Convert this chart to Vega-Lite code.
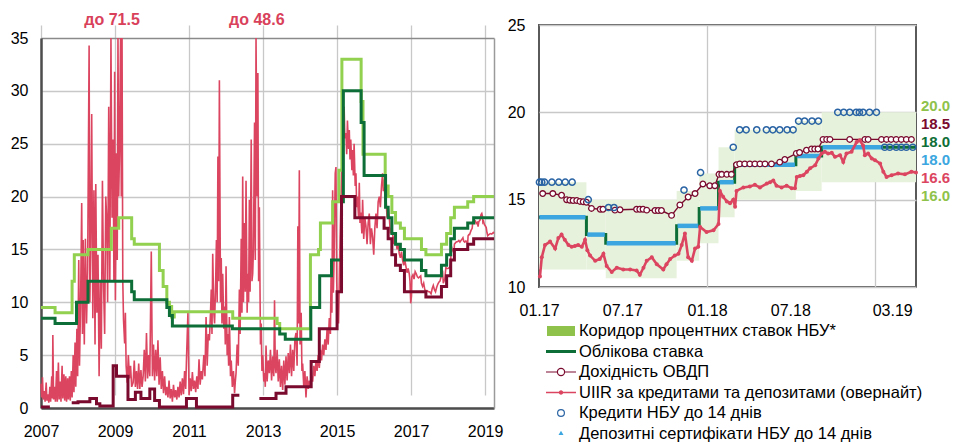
{
  "$schema": "https://vega.github.io/schema/vega-lite/v6.json",
  "padding": {"left": 10, "top": 12, "right": 0, "bottom": 0},
  "background": "white",
  "config": {
    "font": "Liberation Sans",
    "view": {"stroke": null},
    "axis": {"labelFont": "Liberation Sans", "labelFontSize": 16, "labelColor": "#000000", "ticks": false, "title": null, "labelOverlap": false}
  },
  "spacing": 45,
  "bounds": "flush",
  "resolve": {"scale": {"color": "independent"}, "legend": {"color": "independent"}},
  "datasets": {
    "lpink": [
      {"t":2007.00,"v":2.3},{"t":2007.02,"v":1.0},{"t":2007.04,"v":2.9},{"t":2007.06,"v":0.8},{"t":2007.09,"v":1.6},{"t":2007.11,"v":0.6},{"t":2007.14,"v":2.4},{"t":2007.16,"v":0.7},{"t":2007.19,"v":1.3},{"t":2007.21,"v":0.5},{"t":2007.24,"v":2.0},{"t":2007.26,"v":0.6},{"t":2007.29,"v":3.0},{"t":2007.31,"v":0.9},{"t":2007.32,"v":6.9},{"t":2007.34,"v":0.8},{"t":2007.37,"v":2.0},{"t":2007.39,"v":0.6},{"t":2007.42,"v":3.5},{"t":2007.44,"v":0.6},{"t":2007.47,"v":4.3},{"t":2007.49,"v":0.8},{"t":2007.52,"v":2.5},{"t":2007.54,"v":0.6},{"t":2007.57,"v":4.0},{"t":2007.59,"v":0.9},{"t":2007.62,"v":3.2},{"t":2007.64,"v":0.7},{"t":2007.67,"v":3.0},{"t":2007.69,"v":0.6},{"t":2007.72,"v":2.8},{"t":2007.74,"v":0.8},{"t":2007.77,"v":3.0},{"t":2007.79,"v":0.7},{"t":2007.82,"v":3.5},{"t":2007.84,"v":1.0},{"t":2007.87,"v":5.0},{"t":2007.89,"v":1.5},{"t":2007.92,"v":6.2},{"t":2007.94,"v":2.0},{"t":2007.97,"v":7.5},{"t":2007.99,"v":3.0},
      {"t":2008.02,"v":14.0},{"t":2008.04,"v":4.0},{"t":2008.07,"v":10.0},{"t":2008.10,"v":19.4},{"t":2008.12,"v":7.0},{"t":2008.14,"v":15.9},{"t":2008.17,"v":6.0},{"t":2008.20,"v":16.0},{"t":2008.23,"v":8.0},{"t":2008.26,"v":13.0},{"t":2008.30,"v":34.3},{"t":2008.32,"v":10.0},{"t":2008.34,"v":15.0},{"t":2008.37,"v":27.8},{"t":2008.40,"v":8.5},{"t":2008.43,"v":20.6},{"t":2008.46,"v":6.0},{"t":2008.48,"v":21.2},{"t":2008.51,"v":9.0},{"t":2008.54,"v":14.5},{"t":2008.57,"v":3.0},{"t":2008.60,"v":12.0},{"t":2008.63,"v":5.6},{"t":2008.66,"v":21.5},{"t":2008.69,"v":11.7},{"t":2008.72,"v":7.0},{"t":2008.75,"v":20.0},{"t":2008.78,"v":17.5},{"t":2008.80,"v":10.0},{"t":2008.83,"v":28.5},{"t":2008.86,"v":12.0},{"t":2008.89,"v":71.5},{"t":2008.92,"v":18.0},{"t":2008.95,"v":25.4},{"t":2008.97,"v":12.0},{"t":2008.99,"v":31.8},
      {"t":2009.01,"v":10.2},{"t":2009.04,"v":24.1},{"t":2009.06,"v":14.0},{"t":2009.08,"v":45.0},{"t":2009.10,"v":20.0},{"t":2009.12,"v":24.0},{"t":2009.15,"v":45.0},{"t":2009.17,"v":20.0},{"t":2009.19,"v":45.0},{"t":2009.21,"v":12.0},{"t":2009.23,"v":8.3},{"t":2009.26,"v":6.1},{"t":2009.28,"v":9.0},{"t":2009.30,"v":4.0},{"t":2009.33,"v":2.4},{"t":2009.36,"v":5.0},{"t":2009.39,"v":2.8},{"t":2009.42,"v":4.0},{"t":2009.45,"v":2.0},{"t":2009.49,"v":2.4},{"t":2009.52,"v":4.5},{"t":2009.55,"v":2.0},{"t":2009.58,"v":3.5},{"t":2009.61,"v":1.8},{"t":2009.64,"v":4.2},{"t":2009.67,"v":1.8},{"t":2009.70,"v":3.6},{"t":2009.73,"v":2.0},{"t":2009.76,"v":3.0},{"t":2009.79,"v":5.5},{"t":2009.82,"v":2.5},{"t":2009.85,"v":7.1},{"t":2009.88,"v":2.8},{"t":2009.91,"v":5.0},{"t":2009.94,"v":3.0},{"t":2009.98,"v":14.8},
      {"t":2010.01,"v":3.0},{"t":2010.04,"v":6.0},{"t":2010.07,"v":2.6},{"t":2010.10,"v":5.5},{"t":2010.13,"v":3.0},{"t":2010.16,"v":6.4},{"t":2010.19,"v":2.2},{"t":2010.22,"v":4.8},{"t":2010.25,"v":1.8},{"t":2010.28,"v":3.5},{"t":2010.31,"v":1.4},{"t":2010.34,"v":3.0},{"t":2010.37,"v":1.2},{"t":2010.40,"v":2.0},{"t":2010.43,"v":1.0},{"t":2010.46,"v":2.6},{"t":2010.49,"v":0.9},{"t":2010.52,"v":1.8},{"t":2010.55,"v":0.6},{"t":2010.58,"v":2.2},{"t":2010.61,"v":1.0},{"t":2010.64,"v":1.7},{"t":2010.67,"v":0.8},{"t":2010.70,"v":2.0},{"t":2010.73,"v":1.0},{"t":2010.76,"v":2.5},{"t":2010.79,"v":1.2},{"t":2010.82,"v":2.8},{"t":2010.85,"v":1.3},{"t":2010.88,"v":3.5},{"t":2010.91,"v":1.8},{"t":2010.93,"v":4.5},{"t":2010.97,"v":9.0},
      {"t":2011.00,"v":1.2},{"t":2011.03,"v":2.8},{"t":2011.06,"v":1.6},{"t":2011.09,"v":3.4},{"t":2011.12,"v":1.8},{"t":2011.15,"v":2.6},{"t":2011.18,"v":1.5},{"t":2011.21,"v":3.0},{"t":2011.24,"v":1.8},{"t":2011.27,"v":4.6},{"t":2011.30,"v":2.2},{"t":2011.33,"v":3.5},{"t":2011.36,"v":2.7},{"t":2011.40,"v":5.0},{"t":2011.43,"v":3.0},{"t":2011.46,"v":8.6},{"t":2011.49,"v":4.0},{"t":2011.52,"v":7.0},{"t":2011.55,"v":6.4},{"t":2011.58,"v":9.0},{"t":2011.60,"v":11.2},{"t":2011.62,"v":7.0},{"t":2011.64,"v":14.6},{"t":2011.67,"v":9.0},{"t":2011.69,"v":8.0},{"t":2011.72,"v":12.0},{"t":2011.74,"v":15.9},{"t":2011.76,"v":10.0},{"t":2011.78,"v":23.8},{"t":2011.80,"v":12.0},{"t":2011.82,"v":31.0},{"t":2011.85,"v":10.0},{"t":2011.87,"v":14.2},{"t":2011.89,"v":8.0},{"t":2011.91,"v":12.7},{"t":2011.94,"v":7.5},{"t":2011.96,"v":9.6},{"t":2011.98,"v":6.0},
      {"t":2012.00,"v":13.4},{"t":2012.03,"v":5.0},{"t":2012.05,"v":7.0},{"t":2012.07,"v":4.0},{"t":2012.09,"v":8.6},{"t":2012.12,"v":3.0},{"t":2012.14,"v":4.5},{"t":2012.17,"v":2.0},{"t":2012.20,"v":3.5},{"t":2012.23,"v":1.4},{"t":2012.25,"v":2.5},{"t":2012.27,"v":3.3},{"t":2012.30,"v":6.0},{"t":2012.33,"v":4.0},{"t":2012.36,"v":11.2},{"t":2012.38,"v":7.0},{"t":2012.41,"v":16.0},{"t":2012.43,"v":9.0},{"t":2012.45,"v":21.9},{"t":2012.47,"v":10.0},{"t":2012.50,"v":17.5},{"t":2012.52,"v":11.0},{"t":2012.54,"v":21.5},{"t":2012.57,"v":9.0},{"t":2012.59,"v":12.7},{"t":2012.61,"v":10.0},{"t":2012.63,"v":19.7},{"t":2012.65,"v":11.0},{"t":2012.68,"v":25.4},{"t":2012.70,"v":12.0},{"t":2012.72,"v":12.7},{"t":2012.74,"v":15.0},{"t":2012.77,"v":27.0},{"t":2012.79,"v":14.0},{"t":2012.81,"v":48.6},{"t":2012.84,"v":20.0},{"t":2012.86,"v":31.7},{"t":2012.88,"v":12.0},{"t":2012.90,"v":19.0},{"t":2012.93,"v":6.0},{"t":2012.95,"v":8.0},{"t":2012.97,"v":3.5},{"t":2012.99,"v":5.0},
      {"t":2013.02,"v":2.5},{"t":2013.04,"v":3.3},{"t":2013.06,"v":2.0},{"t":2013.08,"v":5.9},{"t":2013.11,"v":2.5},{"t":2013.14,"v":4.5},{"t":2013.17,"v":3.3},{"t":2013.20,"v":5.5},{"t":2013.23,"v":2.6},{"t":2013.26,"v":4.9},{"t":2013.29,"v":3.0},{"t":2013.31,"v":10.2},{"t":2013.33,"v":4.0},{"t":2013.35,"v":3.3},{"t":2013.38,"v":5.5},{"t":2013.41,"v":2.5},{"t":2013.44,"v":4.6},{"t":2013.47,"v":2.0},{"t":2013.50,"v":4.0},{"t":2013.53,"v":1.7},{"t":2013.56,"v":4.5},{"t":2013.59,"v":2.2},{"t":2013.62,"v":4.9},{"t":2013.65,"v":2.6},{"t":2013.68,"v":5.2},{"t":2013.71,"v":3.3},{"t":2013.74,"v":6.0},{"t":2013.77,"v":3.0},{"t":2013.80,"v":5.5},{"t":2013.83,"v":3.5},{"t":2013.86,"v":6.5},{"t":2013.89,"v":7.1},{"t":2013.92,"v":4.0},{"t":2013.94,"v":17.2},{"t":2013.96,"v":8.0},{"t":2013.98,"v":22.5},
      {"t":2014.00,"v":6.0},{"t":2014.03,"v":9.0},{"t":2014.05,"v":3.5},{"t":2014.07,"v":4.2},{"t":2014.10,"v":2.0},{"t":2014.13,"v":3.5},{"t":2014.16,"v":1.0},{"t":2014.19,"v":3.0},{"t":2014.22,"v":1.8},{"t":2014.25,"v":2.6},{"t":2014.28,"v":2.0},{"t":2014.31,"v":3.0},{"t":2014.34,"v":2.5},{"t":2014.37,"v":4.0},{"t":2014.40,"v":3.0},{"t":2014.43,"v":4.5},{"t":2014.46,"v":3.5},{"t":2014.49,"v":5.0},{"t":2014.52,"v":3.8},{"t":2014.55,"v":5.5},{"t":2014.58,"v":4.5},{"t":2014.61,"v":6.0},{"t":2014.64,"v":5.0},{"t":2014.67,"v":6.5},{"t":2014.70,"v":5.5},{"t":2014.73,"v":7.5},{"t":2014.76,"v":6.0},{"t":2014.79,"v":8.5},{"t":2014.82,"v":7.0},{"t":2014.84,"v":13.4},{"t":2014.86,"v":9.0},{"t":2014.88,"v":20.6},{"t":2014.90,"v":10.9},{"t":2014.92,"v":14.2},{"t":2014.95,"v":22.2},{"t":2014.97,"v":22.8},{"t":2014.99,"v":12.0},
      {"t":2015.01,"v":9.0},{"t":2015.04,"v":8.0},{"t":2015.06,"v":12.0},{"t":2015.08,"v":16.0},{"t":2015.10,"v":19.0},{"t":2015.13,"v":23.0},{"t":2015.15,"v":25.4},{"t":2015.17,"v":27.0},{"t":2015.19,"v":28.5},{"t":2015.21,"v":25.5},{"t":2015.24,"v":26.0},{"t":2015.26,"v":24.0},{"t":2015.28,"v":27.2},{"t":2015.31,"v":24.5},{"t":2015.33,"v":26.3},{"t":2015.35,"v":23.5},{"t":2015.37,"v":25.4},{"t":2015.40,"v":22.5},{"t":2015.42,"v":24.4},{"t":2015.44,"v":22.0},{"t":2015.46,"v":25.0},{"t":2015.49,"v":21.0},{"t":2015.51,"v":22.2},{"t":2015.53,"v":19.0},{"t":2015.55,"v":20.0},{"t":2015.58,"v":18.0},{"t":2015.60,"v":21.3},{"t":2015.62,"v":17.5},{"t":2015.64,"v":18.5},{"t":2015.67,"v":16.5},{"t":2015.69,"v":19.7},{"t":2015.72,"v":16.0},{"t":2015.75,"v":18.0},{"t":2015.78,"v":17.2},{"t":2015.81,"v":15.5},{"t":2015.84,"v":17.5},{"t":2015.87,"v":18.4},{"t":2015.90,"v":15.5},{"t":2015.93,"v":17.0},{"t":2015.96,"v":16.2},{"t":2015.99,"v":14.5},
      {"t":2016.02,"v":17.0},{"t":2016.05,"v":18.4},{"t":2016.08,"v":17.0},{"t":2016.11,"v":19.5},{"t":2016.14,"v":20.0},{"t":2016.17,"v":19.0},{"t":2016.20,"v":21.0},{"t":2016.23,"v":22.2},{"t":2016.25,"v":20.5},{"t":2016.27,"v":21.6},{"t":2016.30,"v":19.5},{"t":2016.32,"v":20.0},{"t":2016.35,"v":18.0},{"t":2016.38,"v":19.0},{"t":2016.41,"v":18.1},{"t":2016.44,"v":16.5},{"t":2016.47,"v":17.0},{"t":2016.50,"v":16.5},{"t":2016.53,"v":15.5},{"t":2016.56,"v":16.3},{"t":2016.59,"v":15.9},{"t":2016.62,"v":15.0},{"t":2016.65,"v":15.5},{"t":2016.68,"v":14.6},{"t":2016.71,"v":14.2},{"t":2016.74,"v":14.8},{"t":2016.77,"v":14.0},{"t":2016.80,"v":13.5},{"t":2016.83,"v":14.0},{"t":2016.86,"v":13.4},{"t":2016.89,"v":12.8},{"t":2016.92,"v":13.2},{"t":2016.95,"v":12.7},{"t":2016.97,"v":12.0},{"t":2016.99,"v":9.9},
      {"t":2017.01,"v":10.6},{"t":2017.02,"v":12.4},{"t":2017.05,"v":12.6},{"t":2017.08,"v":12.2},{"t":2017.11,"v":12.9},{"t":2017.14,"v":12.7},{"t":2017.17,"v":12.4},{"t":2017.20,"v":12.3},{"t":2017.23,"v":12.4},{"t":2017.26,"v":12.5},{"t":2017.28,"v":11.8},{"t":2017.31,"v":11.5},{"t":2017.34,"v":11.8},{"t":2017.37,"v":11.2},{"t":2017.40,"v":10.9},{"t":2017.43,"v":11.1},{"t":2017.47,"v":11.0},{"t":2017.50,"v":11.0},{"t":2017.54,"v":10.8},{"t":2017.57,"v":11.3},{"t":2017.60,"v":11.6},{"t":2017.63,"v":11.2},{"t":2017.66,"v":11.0},{"t":2017.69,"v":11.4},{"t":2017.72,"v":11.7},{"t":2017.75,"v":11.9},{"t":2017.78,"v":12.0},{"t":2017.81,"v":12.4},{"t":2017.85,"v":13.0},{"t":2017.87,"v":11.8},{"t":2017.91,"v":12.2},{"t":2017.94,"v":13.3},{"t":2017.97,"v":13.2},
      {"t":2018.00,"v":13.2},{"t":2018.04,"v":13.3},{"t":2018.07,"v":13.6},{"t":2018.08,"v":15.4},{"t":2018.11,"v":15.0},{"t":2018.14,"v":14.8},{"t":2018.16,"v":14.6},{"t":2018.17,"v":15.5},{"t":2018.22,"v":15.7},{"t":2018.26,"v":15.75},{"t":2018.29,"v":15.85},{"t":2018.32,"v":15.7},{"t":2018.36,"v":15.9},{"t":2018.38,"v":16.0},{"t":2018.40,"v":16.1},{"t":2018.42,"v":15.8},{"t":2018.45,"v":15.7},{"t":2018.48,"v":15.8},{"t":2018.51,"v":15.65},{"t":2018.53,"v":15.65},{"t":2018.54,"v":16.3},{"t":2018.56,"v":16.4},{"t":2018.58,"v":16.4},{"t":2018.60,"v":16.6},{"t":2018.62,"v":16.8},{"t":2018.65,"v":17.0},{"t":2018.66,"v":17.35},{"t":2018.68,"v":17.64},{"t":2018.70,"v":17.75},{"t":2018.72,"v":17.64},{"t":2018.74,"v":17.68},{"t":2018.76,"v":17.45},{"t":2018.79,"v":17.55},{"t":2018.81,"v":17.16},{"t":2018.83,"v":17.64},{"t":2018.86,"v":17.75},{"t":2018.89,"v":18.3},{"t":2018.91,"v":18.4},{"t":2018.93,"v":18.1},{"t":2018.94,"v":17.55},{"t":2018.96,"v":17.64},{"t":2018.98,"v":17.35},
      {"t":2019.00,"v":17.26},{"t":2019.03,"v":17.07},{"t":2019.05,"v":16.6},{"t":2019.07,"v":16.3},{"t":2019.10,"v":16.4},{"t":2019.14,"v":16.5},{"t":2019.18,"v":16.45},{"t":2019.22,"v":16.6},{"t":2019.24,"v":16.5}
    ],
    "lup": [
      {"t":2007.00,"v":9.5},{"t":2007.38,"v":9.0},{"t":2007.84,"v":12.0},{"t":2007.90,"v":14.5},{"t":2008.27,"v":15.0},{"t":2008.90,"v":17.0},{"t":2009.10,"v":18.0},{"t":2009.45,"v":16.0},{"t":2009.52,"v":15.5},{"t":2010.20,"v":13.0},{"t":2010.30,"v":11.5},{"t":2010.40,"v":10.0},{"t":2010.47,"v":9.6},{"t":2010.53,"v":8.6},{"t":2010.60,"v":9.1},{"t":2012.18,"v":8.5},{"t":2013.38,"v":8.0},{"t":2013.45,"v":7.5},{"t":2014.28,"v":14.5},{"t":2014.50,"v":15.0},{"t":2014.55,"v":17.5},{"t":2014.88,"v":19.5},{"t":2015.05,"v":22.5},{"t":2015.13,"v":33.0},{"t":2015.65,"v":29.0},{"t":2015.70,"v":24.0},{"t":2016.30,"v":21.0},{"t":2016.38,"v":20.0},{"t":2016.48,"v":18.5},{"t":2016.58,"v":17.5},{"t":2016.71,"v":17.0},{"t":2016.82,"v":16.0},{"t":2017.28,"v":15.0},{"t":2017.40,"v":14.5},{"t":2017.82,"v":15.5},{"t":2017.96,"v":16.5},{"t":2018.07,"v":18.0},{"t":2018.17,"v":19.0},{"t":2018.53,"v":19.5},{"t":2018.69,"v":20.0},{"t":2019.24,"v":20.0}
    ],
    "ldisc": [
      {"t":2007.00,"v":8.5},{"t":2007.38,"v":8.0},{"t":2007.96,"v":10.0},{"t":2008.27,"v":12.0},{"t":2009.45,"v":11.0},{"t":2009.52,"v":10.25},{"t":2010.40,"v":9.5},{"t":2010.47,"v":8.75},{"t":2010.55,"v":7.75},{"t":2012.17,"v":7.5},{"t":2013.45,"v":7.0},{"t":2013.60,"v":6.5},{"t":2014.29,"v":9.5},{"t":2014.53,"v":12.5},{"t":2014.85,"v":14.0},{"t":2015.12,"v":19.5},{"t":2015.17,"v":30.0},{"t":2015.65,"v":27.0},{"t":2015.73,"v":22.0},{"t":2016.31,"v":19.0},{"t":2016.38,"v":18.0},{"t":2016.48,"v":16.5},{"t":2016.58,"v":15.5},{"t":2016.71,"v":15.0},{"t":2016.82,"v":14.0},{"t":2017.28,"v":13.0},{"t":2017.40,"v":12.5},{"t":2017.82,"v":13.5},{"t":2017.96,"v":14.5},{"t":2018.07,"v":16.0},{"t":2018.17,"v":17.0},{"t":2018.53,"v":17.5},{"t":2018.69,"v":18.0},{"t":2019.24,"v":18.0}
    ],
    "llow": [
      {"seg":1,"t":2007.00,"v":0.1},{"seg":1,"t":2007.24,"v":0.1},
      {"seg":2,"t":2007.83,"v":0.5},{"seg":2,"t":2008.00,"v":0.6},{"seg":2,"t":2008.32,"v":0.9},{"seg":2,"t":2008.50,"v":0.4},{"seg":2,"t":2008.59,"v":0.2},{"seg":2,"t":2008.95,"v":4.0},{"seg":2,"t":2009.04,"v":3.0},{"seg":2,"t":2009.35,"v":0.8},{"seg":2,"t":2009.55,"v":1.5},{"seg":2,"t":2009.70,"v":0.9},{"seg":2,"t":2009.94,"v":1.8},{"seg":2,"t":2010.07,"v":0.7},{"seg":2,"t":2010.20,"v":0.1},{"seg":2,"t":2010.93,"v":0.9},{"seg":2,"t":2011.20,"v":0.1},{"seg":2,"t":2012.18,"v":1.2},{"seg":2,"t":2012.36,"v":1.2},
      {"seg":3,"t":2012.90,"v":0.9},{"seg":3,"t":2013.35,"v":1.4},{"seg":3,"t":2013.62,"v":2.0},{"seg":3,"t":2014.30,"v":4.4},{"seg":3,"t":2014.52,"v":7.5},{"seg":3,"t":2015.00,"v":11.0},{"seg":3,"t":2015.12,"v":20.0},{"seg":3,"t":2015.48,"v":18.0},{"seg":3,"t":2016.27,"v":17.0},{"seg":3,"t":2016.38,"v":16.0},{"seg":3,"t":2016.48,"v":14.5},{"seg":3,"t":2016.58,"v":13.5},{"seg":3,"t":2016.71,"v":13.0},{"seg":3,"t":2016.82,"v":11.0},{"seg":3,"t":2017.40,"v":10.5},{"seg":3,"t":2017.82,"v":11.5},{"seg":3,"t":2017.96,"v":12.5},{"seg":3,"t":2018.07,"v":14.0},{"seg":3,"t":2018.17,"v":15.0},{"seg":3,"t":2018.53,"v":15.5},{"seg":3,"t":2018.69,"v":16.0},{"seg":3,"t":2019.24,"v":16.0}
    ],
    "lann": [
      {"t":2008.92,"v":71.5,"label":"до 71.5"},
      {"t":2012.83,"v":48.6,"label":"до 48.6"}
    ],
    "rband": [
      {"s":"2017-01-01","e":"2017-04-14","lo":11,"hi":16},
      {"s":"2017-04-14","e":"2017-05-26","lo":11,"hi":15},
      {"s":"2017-05-26","e":"2017-10-27","lo":10.5,"hi":15},
      {"s":"2017-10-27","e":"2017-12-15","lo":11.5,"hi":15.5},
      {"s":"2017-12-15","e":"2018-01-26","lo":12.5,"hi":16.5},
      {"s":"2018-01-26","e":"2018-03-02","lo":14,"hi":18},
      {"s":"2018-03-02","e":"2018-07-13","lo":15,"hi":19},
      {"s":"2018-07-13","e":"2018-09-07","lo":15.5,"hi":19.5},
      {"s":"2018-09-07","e":"2019-03-31","lo":16,"hi":20}
    ],
    "rdisc": [
      {"d":"2017-01-01","v":14},{"d":"2017-04-14","v":13},{"d":"2017-05-26","v":12.5},{"d":"2017-10-27","v":13.5},{"d":"2017-12-15","v":14.5},{"d":"2018-01-26","v":16},{"d":"2018-03-02","v":17},{"d":"2018-07-13","v":17.5},{"d":"2018-09-07","v":18},{"d":"2019-03-31","v":18}
    ],
    "rdep": [
      {"seg":"a","d":"2017-01-02","v":14},{"seg":"a","d":"2017-04-12","v":14},
      {"seg":"b","d":"2017-04-16","v":13},{"seg":"b","d":"2017-05-24","v":13},
      {"seg":"c","d":"2017-05-28","v":12.5},{"seg":"c","d":"2017-10-25","v":12.5},
      {"seg":"d","d":"2017-10-29","v":13.5},{"seg":"d","d":"2017-12-13","v":13.5},
      {"seg":"e","d":"2017-12-17","v":14.5},{"seg":"e","d":"2018-01-24","v":14.5},
      {"seg":"f","d":"2018-01-28","v":16},{"seg":"f","d":"2018-02-28","v":16},
      {"seg":"g","d":"2018-03-04","v":17},{"seg":"g","d":"2018-07-11","v":17},
      {"seg":"h","d":"2018-07-15","v":17.5},{"seg":"h","d":"2018-09-05","v":17.5},
      {"seg":"i","d":"2018-09-09","v":18},{"seg":"i","d":"2019-01-18","v":18}
    ],
    "rcred": [
      {"d":"2017-01-02","v":16},{"d":"2017-01-07","v":16},{"d":"2017-01-13","v":16},{"d":"2017-01-29","v":16},{"d":"2017-02-13","v":16},{"d":"2017-02-27","v":16},{"d":"2017-03-14","v":16},
      {"d":"2017-04-18","v":15},{"d":"2017-06-01","v":14.55},{"d":"2017-06-13","v":14.55},
      {"d":"2017-11-12","v":15.55},{"d":"2017-12-18","v":16.55},{"d":"2018-02-27","v":18},
      {"d":"2018-03-13","v":19},{"d":"2018-03-27","v":19},{"d":"2018-04-19","v":19},{"d":"2018-05-10","v":19},{"d":"2018-05-24","v":19},{"d":"2018-06-08","v":19},{"d":"2018-06-24","v":19},{"d":"2018-07-07","v":19},
      {"d":"2018-07-19","v":19.5},{"d":"2018-08-01","v":19.5},{"d":"2018-08-17","v":19.5},{"d":"2018-08-31","v":19.5},
      {"d":"2018-10-12","v":20},{"d":"2018-10-25","v":20},{"d":"2018-11-07","v":20},{"d":"2018-11-21","v":20},{"d":"2018-11-28","v":20},{"d":"2018-12-06","v":20},{"d":"2018-12-20","v":20},{"d":"2019-01-04","v":20},
      {"d":"2019-01-22","v":18},{"d":"2019-02-02","v":18},{"d":"2019-02-16","v":18},{"d":"2019-02-27","v":18},{"d":"2019-03-10","v":18},{"d":"2019-03-24","v":18}
    ],
    "rovdp": [
      {"d":"2017-01-09","v":15.35},{"d":"2017-01-31","v":15.35},{"d":"2017-02-19","v":15.25},{"d":"2017-03-02","v":15.0},{"d":"2017-03-09","v":14.97},{"d":"2017-03-16","v":14.95},{"d":"2017-03-24","v":14.95},{"d":"2017-03-31","v":14.9},{"d":"2017-04-07","v":14.88},{"d":"2017-04-14","v":14.85},{"d":"2017-04-25","v":14.5},{"d":"2017-05-14","v":14.45},{"d":"2017-05-20","v":14.45},{"d":"2017-06-15","v":14.4},{"d":"2017-06-26","v":14.42},{"d":"2017-08-01","v":14.45},{"d":"2017-08-08","v":14.45},{"d":"2017-08-15","v":14.45},{"d":"2017-08-23","v":14.4},{"d":"2017-09-10","v":14.38},{"d":"2017-09-17","v":14.38},{"d":"2017-09-24","v":14.38},{"d":"2017-10-16","v":14.1},{"d":"2017-11-03","v":14.7},{"d":"2017-11-21","v":15.15},{"d":"2017-12-06","v":15.35},{"d":"2017-12-23","v":15.9},{"d":"2018-01-07","v":15.8},{"d":"2018-01-18","v":15.8},{"d":"2018-01-27","v":16.45},{"d":"2018-02-02","v":16.45},{"d":"2018-02-13","v":16.45},{"d":"2018-02-23","v":16.45},{"d":"2018-03-06","v":17.0},{"d":"2018-03-13","v":17.05},{"d":"2018-03-24","v":17.05},{"d":"2018-04-04","v":17.05},{"d":"2018-04-15","v":17.05},{"d":"2018-04-26","v":17.05},{"d":"2018-05-07","v":17.05},{"d":"2018-05-21","v":17.05},{"d":"2018-06-08","v":17.15},{"d":"2018-06-19","v":17.3},{"d":"2018-07-14","v":17.65},{"d":"2018-07-21","v":17.7},{"d":"2018-08-05","v":17.83},{"d":"2018-08-16","v":17.9},{"d":"2018-08-23","v":17.9},{"d":"2018-08-30","v":17.9},{"d":"2018-09-10","v":18.45},{"d":"2018-09-18","v":18.45},{"d":"2018-09-25","v":18.45},{"d":"2018-11-07","v":18.45},{"d":"2018-12-10","v":18.45},{"d":"2018-12-17","v":18.45},{"d":"2019-01-15","v":18.45},{"d":"2019-01-26","v":18.45},{"d":"2019-02-05","v":18.45},{"d":"2019-02-16","v":18.45},{"d":"2019-02-27","v":18.45},{"d":"2019-03-10","v":18.45},{"d":"2019-03-21","v":18.45}
    ],
    "ruiir": [
      {"d":"2017-01-03","v":10.6},{"d":"2017-01-07","v":11.7},{"d":"2017-01-14","v":12.4},{"d":"2017-01-25","v":12.6},{"d":"2017-02-05","v":12.2},{"d":"2017-02-12","v":12.8},{"d":"2017-02-19","v":13.0},{"d":"2017-02-26","v":12.7},{"d":"2017-03-06","v":12.4},{"d":"2017-03-13","v":12.3},{"d":"2017-03-20","v":12.35},{"d":"2017-03-27","v":12.4},{"d":"2017-04-04","v":12.3},{"d":"2017-04-11","v":12.7},{"d":"2017-04-16","v":12.1},{"d":"2017-04-22","v":11.8},{"d":"2017-05-03","v":11.5},{"d":"2017-05-13","v":11.6},{"d":"2017-05-21","v":11.9},{"d":"2017-05-28","v":11.2},{"d":"2017-06-08","v":10.86},{"d":"2017-06-19","v":11.1},{"d":"2017-07-03","v":11.0},{"d":"2017-07-18","v":11.0},{"d":"2017-08-01","v":10.95},{"d":"2017-08-08","v":10.7},{"d":"2017-08-16","v":11.1},{"d":"2017-08-23","v":11.5},{"d":"2017-09-03","v":11.7},{"d":"2017-09-14","v":11.3},{"d":"2017-09-28","v":11.0},{"d":"2017-10-05","v":11.3},{"d":"2017-10-13","v":11.6},{"d":"2017-10-23","v":11.8},{"d":"2017-10-31","v":11.9},{"d":"2017-11-07","v":12.4},{"d":"2017-11-14","v":13.07},{"d":"2017-11-21","v":11.7},{"d":"2017-11-29","v":11.5},{"d":"2017-12-06","v":12.2},{"d":"2017-12-13","v":12.3},{"d":"2017-12-17","v":13.44},{"d":"2017-12-31","v":13.15},{"d":"2018-01-15","v":13.25},{"d":"2018-01-26","v":13.6},{"d":"2018-01-29","v":15.5},{"d":"2018-02-05","v":15.16},{"d":"2018-02-13","v":14.9},{"d":"2018-02-20","v":14.8},{"d":"2018-02-27","v":15.0},{"d":"2018-03-03","v":14.6},{"d":"2018-03-06","v":15.5},{"d":"2018-03-21","v":15.7},{"d":"2018-04-04","v":15.75},{"d":"2018-04-15","v":15.85},{"d":"2018-04-26","v":15.7},{"d":"2018-05-11","v":15.92},{"d":"2018-05-18","v":16.0},{"d":"2018-05-25","v":16.1},{"d":"2018-06-01","v":15.8},{"d":"2018-06-12","v":15.7},{"d":"2018-06-23","v":15.8},{"d":"2018-07-04","v":15.65},{"d":"2018-07-11","v":15.65},{"d":"2018-07-15","v":16.3},{"d":"2018-07-22","v":16.35},{"d":"2018-07-29","v":16.4},{"d":"2018-08-06","v":16.6},{"d":"2018-08-13","v":16.8},{"d":"2018-08-24","v":16.97},{"d":"2018-08-31","v":17.35},{"d":"2018-09-07","v":17.64},{"d":"2018-09-14","v":17.75},{"d":"2018-09-21","v":17.64},{"d":"2018-09-29","v":17.68},{"d":"2018-10-06","v":17.45},{"d":"2018-10-17","v":17.55},{"d":"2018-10-24","v":17.16},{"d":"2018-10-31","v":17.64},{"d":"2018-11-11","v":17.75},{"d":"2018-11-22","v":18.3},{"d":"2018-11-29","v":18.4},{"d":"2018-12-06","v":18.1},{"d":"2018-12-10","v":17.55},{"d":"2018-12-17","v":17.64},{"d":"2018-12-25","v":17.35},{"d":"2019-01-01","v":17.26},{"d":"2019-01-12","v":17.07},{"d":"2019-01-19","v":16.6},{"d":"2019-01-26","v":16.3},{"d":"2019-02-06","v":16.4},{"d":"2019-02-20","v":16.5},{"d":"2019-03-07","v":16.45},{"d":"2019-03-21","v":16.6},{"d":"2019-03-31","v":16.55}
    ],
    "rlab": [
      {"rank":1,"label":"20.0","series":"Коридор процентних ставок НБУ*"},
      {"rank":2,"label":"18.5","series":"Дохідність ОВДП"},
      {"rank":3,"label":"18.0","series":"Облікова ставка"},
      {"rank":4,"label":"18.0","series":"Депозитні сертифікати НБУ до 14 днів"},
      {"rank":5,"label":"16.6","series":"UIIR за кредитами та депозитами (овернайт)"},
      {"rank":6,"label":"16.0","series":"Коридор процентних ставок НБУ*"}
    ]
  },
  "hconcat": [
    {
      "width": 453,
      "height": 383,
      "layer": [
        {
          "layer": [
            {
              "data": {"name": "lpink"},
              "mark": {"type": "line", "color": "#dc4560", "strokeWidth": 1.6},
              "encoding": {
                "x": {"field": "t", "type": "quantitative",
                  "scale": {"domain": [2007, 2019.24], "nice": false, "zero": false},
                  "axis": {"values": [2007, 2009, 2011, 2013, 2015, 2017, 2019], "format": "d", "labelFlush": false, "grid": true, "gridColor": "#c8c8c8", "gridWidth": 1.3, "domainColor": "#4d4d4d", "domainWidth": 2.5, "labelPadding": 15}},
                "y": {"field": "v", "type": "quantitative",
                  "scale": {"domain": [0, 35], "range": [383, 13], "nice": false, "zero": false, "clamp": true},
                  "axis": {"values": [0, 5, 10, 15, 20, 25, 30, 35], "grid": true, "gridColor": {"condition": {"test": "datum.value == 35", "value": "#8a8a8a"}, "value": "#c8c8c8"}, "gridWidth": 1.3, "domainColor": "#4d4d4d", "domainWidth": 2.5, "labelPadding": 13}}
              }
            },
            {
              "data": {"name": "lup"},
              "mark": {"type": "line", "interpolate": "step-after", "color": "#92d050", "strokeWidth": 3},
              "encoding": {"x": {"field": "t", "type": "quantitative"}, "y": {"field": "v", "type": "quantitative"}}
            },
            {
              "data": {"name": "ldisc"},
              "mark": {"type": "line", "interpolate": "step-after", "color": "#0e6e37", "strokeWidth": 3},
              "encoding": {"x": {"field": "t", "type": "quantitative"}, "y": {"field": "v", "type": "quantitative"}}
            },
            {
              "data": {"name": "llow"},
              "mark": {"type": "line", "interpolate": "step-after", "color": "#7a0b2e", "strokeWidth": 3},
              "encoding": {"x": {"field": "t", "type": "quantitative"}, "y": {"field": "v", "type": "quantitative"}, "detail": {"field": "seg", "type": "nominal"}}
            }
          ]
        },
        {
          "data": {"name": "lann"},
          "mark": {"type": "text", "fontWeight": "bold", "fontSize": 16, "color": "#d9415b", "baseline": "alphabetic", "align": "center", "dy": -13},
          "encoding": {
            "x": {"field": "t", "type": "quantitative"},
            "y": {"field": "v", "type": "quantitative", "axis": {"orient": "right", "labels": false, "grid": false, "ticks": false, "domainColor": "#9a9a9a", "domainWidth": 1.5, "title": null}},
            "text": {"field": "label"}
          }
        }
      ],
      "resolve": {"axis": {"y": "independent"}}
    },
    {
      "width": 377,
      "height": 262,
      "view": {"stroke": "#5a5a5a", "strokeWidth": 2},
      "layer": [
        {
          "layer": [
            {
              "data": {"name": "rband"},
              "mark": {"type": "rect", "color": "#e7f2dc"},
              "encoding": {
                "x": {"field": "s", "type": "temporal",
                  "scale": {"type": "utc", "domain": [{"year": 2017, "month": 1, "date": 1, "utc": true}, {"year": 2019, "month": 3, "date": 31, "utc": true}], "nice": false},
                  "axis": {"values": [{"year": 2017, "month": 1, "date": 1, "utc": true}, {"year": 2017, "month": 7, "date": 1, "utc": true}, {"year": 2018, "month": 1, "date": 1, "utc": true}, {"year": 2018, "month": 7, "date": 1, "utc": true}, {"year": 2019, "month": 1, "date": 1, "utc": true}, {"year": 2019, "month": 3, "date": 1, "utc": true}],
                    "labelExpr": "utcFormat(datum.value, '%m.%y') == '01.19' ? '' : utcFormat(datum.value, '%m.%y')",
                    "labelFlush": false, "grid": true, "gridColor": "#c8c8c8", "gridWidth": 1.3,
                    "gridOpacity": {"condition": {"test": "utcmonth(datum.value) == 0 && utcyear(datum.value) >= 2018", "value": 1}, "value": 0},
                    "labelOffset": {"condition": {"test": "utcmonth(datum.value) == 2", "value": -10}, "value": 0},
                    "domain": false, "labelPadding": 15}},
                "x2": {"field": "e"},
                "y": {"field": "lo", "type": "quantitative",
                  "scale": {"domain": [10, 25], "nice": false, "zero": false},
                  "axis": {"values": [10, 15, 20, 25], "grid": true, "gridColor": "#c8c8c8", "gridWidth": 1.3, "domain": false, "labelPadding": 14}},
                "y2": {"field": "hi"}
              }
            },
            {
              "data": {"name": "rdisc"},
              "mark": {"type": "line", "interpolate": "step-after", "color": "#0e6e37", "strokeWidth": 3},
              "encoding": {"x": {"field": "d", "type": "temporal"}, "y": {"field": "v", "type": "quantitative"}}
            },
            {
              "data": {"name": "rdep"},
              "mark": {"type": "line", "color": "#3ba6e0", "strokeWidth": 4.5},
              "encoding": {"x": {"field": "d", "type": "temporal"}, "y": {"field": "v", "type": "quantitative"}, "detail": {"field": "seg", "type": "nominal"}}
            },
            {
              "data": {"name": "rovdp"},
              "mark": {"type": "line", "color": "#7a0b2e", "strokeWidth": 1.4},
              "encoding": {"x": {"field": "d", "type": "temporal"}, "y": {"field": "v", "type": "quantitative"}}
            },
            {
              "data": {"name": "rovdp"},
              "mark": {"type": "point", "shape": "circle", "filled": true, "fill": "#ffffff", "stroke": "#7a0b2e", "strokeWidth": 1.3, "size": 32, "opacity": 1},
              "encoding": {"x": {"field": "d", "type": "temporal"}, "y": {"field": "v", "type": "quantitative"}}
            },
            {
              "data": {"name": "ruiir"},
              "mark": {"type": "line", "color": "#dc4560", "strokeWidth": 2.6},
              "encoding": {"x": {"field": "d", "type": "temporal"}, "y": {"field": "v", "type": "quantitative"}}
            },
            {
              "data": {"name": "ruiir"},
              "mark": {"type": "point", "shape": "circle", "filled": true, "color": "#dc4560", "size": 16, "opacity": 1},
              "encoding": {"x": {"field": "d", "type": "temporal"}, "y": {"field": "v", "type": "quantitative"}}
            },
            {
              "data": {"name": "rcred"},
              "mark": {"type": "point", "shape": "circle", "filled": false, "stroke": "#2a64a4", "strokeWidth": 1.5, "size": 38, "opacity": 1},
              "encoding": {"x": {"field": "d", "type": "temporal"}, "y": {"field": "v", "type": "quantitative"}}
            }
          ]
        },
        {
          "data": {"name": "rlab"},
          "mark": {"type": "text", "align": "left", "baseline": "middle", "fontSize": 15, "fontWeight": "bold", "dx": 5},
          "encoding": {
            "x": {"datum": {"year": 2019, "month": 3, "date": 31, "utc": true}, "type": "temporal"},
            "y": {"field": "rank", "type": "ordinal", "scale": {"type": "point", "range": [81, 171], "padding": 0}, "axis": null},
            "text": {"field": "label"},
            "color": {"field": "series", "type": "nominal",
              "scale": {
                "domain": ["Коридор процентних ставок НБУ*", "Облікова ставка", "Дохідність ОВДП", "UIIR за кредитами та депозитами (овернайт)", "Кредити НБУ до 14 днів", "Депозитні сертифікати НБУ до 14 днів"],
                "range": ["#8fc24a", "#0e6e37", "#7a0b2e", "#dc4560", "#2a64a4", "#3ba6e0"]
              },
              "legend": {
                "orient": "none", "legendX": 40, "legendY": 306, "direction": "vertical", "title": null,
                "symbolSize": 400, "labelFontSize": 16.5, "labelFont": "Liberation Sans", "labelColor": "#000000",
                "labelOffset": 25, "rowPadding": 3.5, "padding": 0, "labelLimit": 500,
                "encode": {
                  "symbols": {
                    "update": {
                      "x": {"value": -18},
                      "shape": {"signal": "['M-1.4,-0.5H1.4V0.5H-1.4Z','M-1.5,0H1.5','M-1.5,0H-0.36M0.36,0A0.36,0.36 0 1,1 -0.36,0A0.36,0.36 0 1,1 0.36,0M0.36,0H1.5','M-1.5,0H1.5M0.15,0A0.15,0.15 0 1,1 -0.15,0A0.15,0.15 0 1,1 0.15,0','M0.34,0A0.34,0.34 0 1,1 -0.34,0A0.34,0.34 0 1,1 0.34,0','M0,-0.28L0.25,0.16H-0.25Z'][datum.index]"},
                      "fill": {"signal": "['#92d050','transparent','#ffffff','#dc4560','#ffffff','#3ba6e0'][datum.index]"},
                      "fillOpacity": {"signal": "[1,0,0,1,0,1][datum.index]"},
                      "stroke": {"signal": "['transparent','#0e6e37','#7a0b2e','#dc4560','#2a64a4','transparent'][datum.index]"},
                      "strokeWidth": {"signal": "[0,3,1.2,1.5,1.2,0][datum.index]"},
                      "opacity": {"value": 1}
                    }
                  }
                }
              }
            }
          }
        }
      ],
      "resolve": {"scale": {"y": "independent"}, "axis": {"y": "independent"}}
    }
  ]
}
